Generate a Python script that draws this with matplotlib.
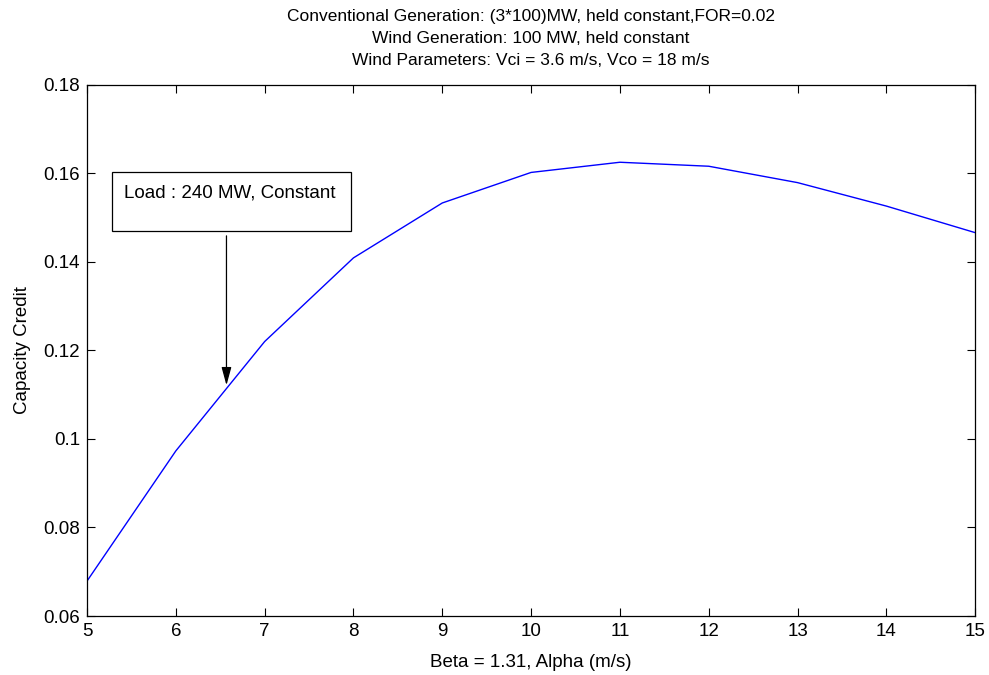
import numpy as np
import matplotlib
matplotlib.use("Agg")
from matplotlib import pyplot as plt
from matplotlib.patches import Rectangle

plt.rcParams['font.family'] = ['Liberation Sans', 'DejaVu Sans']

alpha = [5, 6, 7, 8, 9, 10, 11, 12, 13, 14, 15]
credit = [0.0679, 0.0973, 0.1220, 0.1409, 0.1533, 0.1602, 0.1625, 0.1616, 0.1579, 0.1526, 0.1466]

title_lines = ["Conventional Generation: (3*100)MW, held constant,FOR=0.02",
               "Wind Generation: 100 MW, held constant",
               "Wind Parameters: Vci = 3.6 m/s, Vco = 18 m/s"]
note = "Load : 240 MW, Constant"

fig = plt.figure(figsize=(9.89, 6.75), dpi=100)
ax = fig.add_axes([0.088, 0.0874, 0.898, 0.787])

ax.plot(alpha, credit, color='#0000ff', lw=1)
ax.set_xlim(5, 15)
ax.set_ylim(0.06, 0.18)
ax.set_xticks(range(5, 16))
ax.set_yticks([0.06, 0.08, 0.1, 0.12, 0.14, 0.16, 0.18])
ax.set_yticklabels(['0.06', '0.08', '0.1', '0.12', '0.14', '0.16', '0.18'])
ax.tick_params(direction='in', top=True, right=True, length=6, width=0.8, labelsize=13.5, pad=5)
for s in ax.spines.values():
    s.set_linewidth(0.9)

ax.set_xlabel("Beta = 1.31, Alpha (m/s)", fontsize=13.5, labelpad=10)
ax.set_ylabel("Capacity Credit", fontsize=13.5, labelpad=9)
ax.set_title("\n".join(title_lines), fontsize=12.5, linespacing=1.6, pad=14)

# text box with an arrow down to the curve
ax.add_patch(Rectangle((5.28, 0.1470), 2.69, 0.0132, fill=False, ec='black', lw=0.9))
ax.text(5.42, 0.1555, note, fontsize=13.5, va='center', ha='left')
ax.annotate("", xy=(6.57, 0.1115), xytext=(6.57, 0.1465),
            arrowprops=dict(arrowstyle='-|>,head_length=1.1,head_width=0.3', color='black', lw=0.9))

fig.savefig("out.png", dpi=100)
